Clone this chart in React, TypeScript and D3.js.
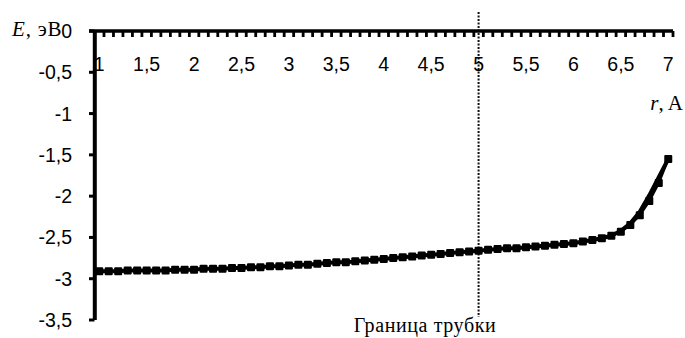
import React from "react";
import * as d3 from "d3";

// Radial positions r (Å), step 0.1
const radii = [
  1.0, 1.1, 1.2, 1.3, 1.4, 1.5, 1.6, 1.7, 1.8, 1.9,
  2.0, 2.1, 2.2, 2.3, 2.4, 2.5, 2.6, 2.7, 2.8, 2.9,
  3.0, 3.1, 3.2, 3.3, 3.4, 3.5, 3.6, 3.7, 3.8, 3.9,
  4.0, 4.1, 4.2, 4.3, 4.4, 4.5, 4.6, 4.7, 4.8, 4.9,
  5.0, 5.1, 5.2, 5.3, 5.4, 5.5, 5.6, 5.7, 5.8, 5.9,
  6.0, 6.1, 6.2, 6.3, 6.4, 6.5, 6.6, 6.7, 6.8, 6.9,
  7.0,
];

// Computed energy points (eV), drawn as square markers
const energyPoints = [
  -2.91, -2.91, -2.91, -2.9, -2.9, -2.9, -2.9, -2.9, -2.89, -2.89,
  -2.89, -2.88, -2.88, -2.88, -2.87, -2.87, -2.86, -2.86, -2.85, -2.85,
  -2.84, -2.83, -2.83, -2.82, -2.81, -2.8, -2.8, -2.79, -2.78, -2.77,
  -2.76, -2.75, -2.74, -2.73, -2.72, -2.71, -2.7, -2.69, -2.68, -2.67,
  -2.66, -2.65, -2.64, -2.63, -2.63, -2.62, -2.61, -2.6, -2.59, -2.58,
  -2.57, -2.55, -2.53, -2.51, -2.48, -2.43, -2.35, -2.23, -2.06, -1.84,
  -1.55,
];

// Smooth energy curve (eV), drawn as a thick line
const energyCurve = [
  -2.91, -2.91, -2.91, -2.9, -2.9, -2.9, -2.9, -2.9, -2.89, -2.89,
  -2.89, -2.88, -2.88, -2.88, -2.87, -2.87, -2.86, -2.86, -2.85, -2.85,
  -2.84, -2.83, -2.83, -2.82, -2.81, -2.8, -2.8, -2.79, -2.78, -2.77,
  -2.76, -2.75, -2.74, -2.73, -2.72, -2.71, -2.7, -2.69, -2.68, -2.67,
  -2.66, -2.65, -2.64, -2.63, -2.63, -2.62, -2.61, -2.6, -2.59, -2.58,
  -2.57, -2.55, -2.53, -2.51, -2.48, -2.42, -2.33, -2.19, -1.99, -1.77,
  -1.55,
];

const xTickLabels = [
  { r: 1.0, text: "1" }, { r: 1.5, text: "1,5" }, { r: 2.0, text: "2" },
  { r: 2.5, text: "2,5" }, { r: 3.0, text: "3" }, { r: 3.5, text: "3,5" },
  { r: 4.0, text: "4" }, { r: 4.5, text: "4,5" }, { r: 5.0, text: "5" },
  { r: 5.5, text: "5,5" }, { r: 6.0, text: "6" }, { r: 6.5, text: "6,5" },
  { r: 7.0, text: "7" },
];

const yTicks = [0, -0.5, -1, -1.5, -2, -2.5, -3, -3.5];
const yTickLabels = ["0", "-0,5", "-1", "-1,5", "-2", "-2,5", "-3", "-3,5"];

const tubeBoundary = 5.0;

const W = 685;
const H = 338;

export default function App() {
  const key = (r: number) => r.toFixed(1);
  const x = d3.scaleBand<string>().domain(radii.map(key)).range([94.5, 673]).padding(0);
  const y = d3.scaleLinear().domain([-3.5, 0]).range([320, 31]);
  const cx = (r: number) => (x(key(r)) as number) + x.bandwidth() / 2;

  const line = d3
    .line<number>()
    .x((_, i) => cx(radii[i]))
    .y((v) => y(v));

  const pointsLine = line(energyPoints) || "";
  const curveLine = line(energyCurve) || "";

  // tick marks on the category axis sit on band boundaries
  const bandEdges = radii.map((r) => x(key(r)) as number).concat([673]);

  const sans = "'Liberation Sans', Arial, sans-serif";
  const serif = "'Liberation Serif', 'Times New Roman', serif";

  return (
    <svg
      width={W}
      height={H}
      style={{ position: "absolute", left: 0, top: 0, background: "#fff" }}
    >
      {/* tube boundary */}
      <line
        x1={cx(tubeBoundary)}
        x2={cx(tubeBoundary)}
        y1={12}
        y2={317}
        stroke="#111"
        strokeWidth={2}
        strokeDasharray="2 1.5"
      />

      {/* y axis */}
      <line x1={94.8} x2={94.8} y1={y(0)} y2={y(-3.5)} stroke="#000" strokeWidth={4} />
      {yTicks.map((t, i) => (
        <g key={t}>
          <line x1={89} x2={94.5} y1={y(t)} y2={y(t)} stroke="#000" strokeWidth={3} />
          <text
            x={72}
            y={y(t)}
            textAnchor="end"
            dominantBaseline="central"
            fontFamily={sans}
            fontSize={19.5}
            fill="#000"
          >
            {yTickLabels[i]}
          </text>
        </g>
      ))}

      {/* category axis at E = 0 */}
      <line x1={89} x2={673} y1={y(0)} y2={y(0)} stroke="#000" strokeWidth={3.5} />
      {bandEdges.map((e, i) => (
        <line key={i} x1={e} x2={e} y1={y(0)} y2={y(0) + 6} stroke="#000" strokeWidth={2.8} />
      ))}
      {xTickLabels.map((t) => (
        <text
          key={t.text}
          x={cx(t.r)}
          y={71}
          textAnchor="middle"
          fontFamily={sans}
          fontSize={19.5}
          fill="#000"
        >
          {t.text}
        </text>
      ))}

      {/* energy curve */}
      <path d={curveLine} fill="none" stroke="#000" strokeWidth={4} strokeLinejoin="round" />
      <path d={pointsLine} fill="none" stroke="#000" strokeWidth={2.5} />
      {energyPoints.map((v, i) => (
        <rect
          key={i}
          x={cx(radii[i]) - 4}
          y={y(v) - 4}
          width={8}
          height={8}
          rx={1}
          fill="#000"
        />
      ))}

      {/* axis titles */}
      <text x={12} y={36} fontFamily={serif} fontSize={21} letterSpacing={0.8} fill="#000">
        <tspan fontStyle="italic">E</tspan>
        <tspan>, эВ</tspan>
      </text>
      <text x={683} y={110} textAnchor="end" fontFamily={serif} fontSize={21} fill="#000">
        <tspan fontStyle="italic">r</tspan>
        <tspan>, A</tspan>
      </text>
      <text
        x={425}
        y={331.5}
        textAnchor="middle"
        fontFamily={serif}
        fontSize={20}
        letterSpacing={0.6}
        fill="#000"
      >
        Граница трубки
      </text>
    </svg>
  );
}
